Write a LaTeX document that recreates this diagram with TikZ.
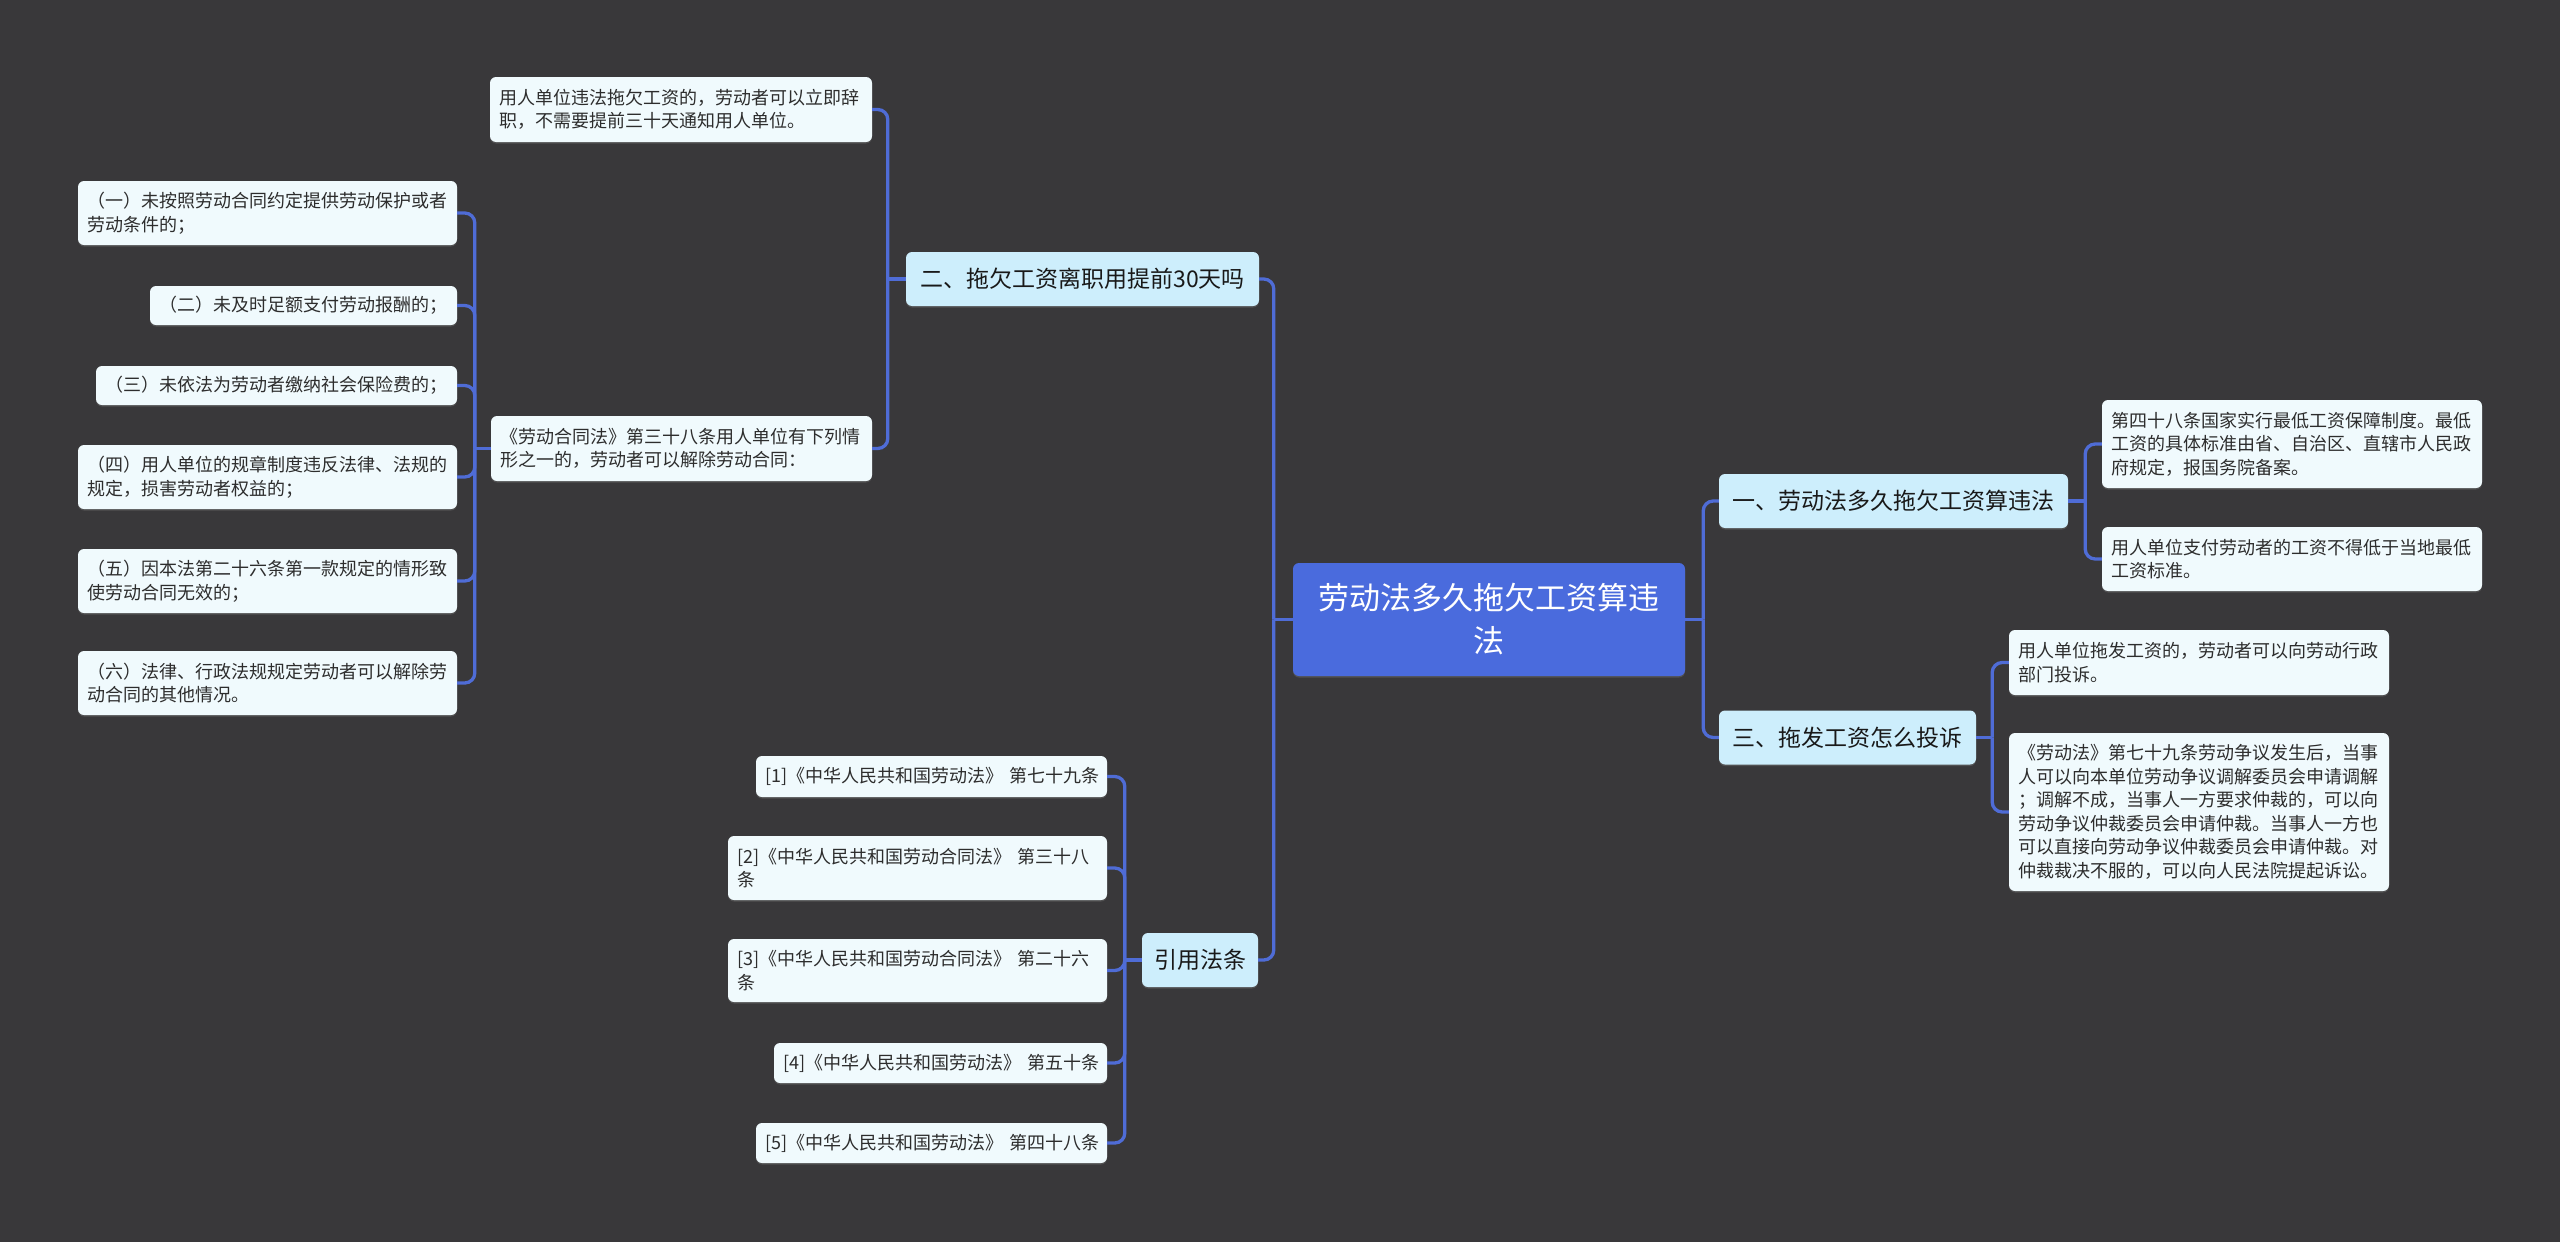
\documentclass[tikz,border=0pt]{standalone}
\usepackage{fontspec}
\setmainfont{Noto Sans CJK SC}
\usetikzlibrary{shadows}
\definecolor{bgc}{RGB}{57,56,58}
\definecolor{rootfill}{RGB}{74,107,221}
\definecolor{lonefill}{RGB}{205,238,252}
\definecolor{leaffill}{RGB}{240,250,253}
\definecolor{linec}{RGB}{79,108,214}
\definecolor{leaftext}{RGB}{45,45,45}
\definecolor{lonetext}{RGB}{25,25,25}
\newcommand\myleaffont{\fontsize{18pt}{23.5pt}\selectfont}
\newcommand\mylonefont{\fontsize{23pt}{30pt}\selectfont}
\newcommand\myrootfont{\fontsize{31pt}{43pt}\selectfont}
\tikzset{
  boxbase/.style={rounded corners=6pt, drop shadow={shadow xshift=0pt, shadow yshift=-1.5pt, opacity=0.35}},
  leaf/.style={boxbase, fill=leaffill, text=leaftext, inner xsep=9pt, inner ysep=0pt, align=left, font=\myleaffont},
  lone/.style={boxbase, fill=lonefill, text=lonetext, inner sep=0pt, align=center, font=\mylonefont, minimum height=54pt},
  rootbox/.style={boxbase, fill=rootfill, text=white, inner sep=0pt, align=center, font=\myrootfont, minimum width=392pt, minimum height=113pt},
  conn/.style={draw=linec, line width=3.3pt, rounded corners=10pt}
}
\begin{document}
\begin{tikzpicture}[x=1pt,y=-1pt]
\useasboundingbox (0,0) rectangle (2560,1242);
\fill[bgc] (0,0) rectangle (2560,1242);

% root
\node[rootbox] (root) at (1489,619.5) {劳动法多久拖欠工资算违\\法};

% level one
\node[lone, minimum width=353pt] (B) at (1082.5,279) {二、拖欠工资离职用提前30天吗};
\node[lone, minimum width=116pt] (R) at (1200,960) {引用法条};
\node[lone, minimum width=349pt] (O) at (1893.5,501) {一、劳动法多久拖欠工资算违法};
\node[lone, minimum width=257pt] (T) at (1847.5,737.5) {三、拖发工资怎么投诉};

% B children
\node[leaf, text width=364pt, minimum height=65pt] (A) at (681,109.5) {用人单位违法拖欠工资的，劳动者可以立即辞\\职，不需要提前三十天通知用人单位。};
\node[leaf, text width=363pt, minimum height=65pt] (C) at (681.5,448.5) {《劳动合同法》第三十八条用人单位有下列情\\形之一的，劳动者可以解除劳动合同：};

% C children
\node[leaf, text width=361pt, minimum height=64pt] (k1) at (267.5,213) {（一）未按照劳动合同约定提供劳动保护或者\\劳动条件的；};
\node[leaf, text width=289pt, minimum height=39pt] (k2) at (303.5,305.5) {（二）未及时足额支付劳动报酬的；};
\node[leaf, text width=343pt, minimum height=39pt] (k3) at (276.5,385.5) {（三）未依法为劳动者缴纳社会保险费的；};
\node[leaf, text width=361pt, minimum height=64pt] (k4) at (267.5,477) {（四）用人单位的规章制度违反法律、法规的\\规定，损害劳动者权益的；};
\node[leaf, text width=361pt, minimum height=64pt] (k5) at (267.5,581) {（五）因本法第二十六条第一款规定的情形致\\使劳动合同无效的；};
\node[leaf, text width=361pt, minimum height=64pt] (k6) at (267.5,683) {（六）法律、行政法规规定劳动者可以解除劳\\动合同的其他情况。};

% references
\node[leaf, text width=333pt, minimum height=41pt] (r1) at (931.5,776.5) {\mbox{[1]《中华人民共和国劳动法》~第七十九条}};
\node[leaf, text width=361pt, minimum height=64pt] (r2) at (917.5,868) {[2]《中华人民共和国劳动合同法》~第三十八\\条};
\node[leaf, text width=361pt, minimum height=63pt] (r3) at (917.5,970.5) {[3]《中华人民共和国劳动合同法》~第二十六\\条};
\node[leaf, text width=315pt, minimum height=40pt] (r4) at (940.5,1063) {\mbox{[4]《中华人民共和国劳动法》~第五十条}};
\node[leaf, text width=333pt, minimum height=40pt] (r5) at (931.5,1143) {\mbox{[5]《中华人民共和国劳动法》~第四十八条}};

% right side children
\node[leaf, text width=362pt, minimum height=88pt] (d1) at (2292,444) {第四十八条国家实行最低工资保障制度。最低\\工资的具体标准由省、自治区、直辖市人民政\\府规定，报国务院备案。};
\node[leaf, text width=362pt, minimum height=64pt] (d2) at (2292,559) {用人单位支付劳动者的工资不得低于当地最低\\工资标准。};
\node[leaf, text width=362pt, minimum height=65pt] (e1) at (2199,662.5) {用人单位拖发工资的，劳动者可以向劳动行政\\部门投诉。};
\node[leaf, text width=362pt, minimum height=158pt] (e2) at (2199,812) {《劳动法》第七十九条劳动争议发生后，当事\\人可以向本单位劳动争议调解委员会申请调解\\；调解不成，当事人一方要求仲裁的，可以向\\劳动争议仲裁委员会申请仲裁。当事人一方也\\可以直接向劳动争议仲裁委员会申请仲裁。对\\仲裁裁决不服的，可以向人民法院提起诉讼。};

% connectors
\draw[conn] (root.west) -- ++(-19,0) coordinate (jL);
\draw[conn] (jL) |- (B.east);
\draw[conn] (jL) |- (R.east);
\draw[conn] (root.east) -- ++(18,0) coordinate (jRt);
\draw[conn] (jRt) |- (O.west);
\draw[conn] (jRt) |- (T.west);

\draw[conn] (B.west) -- ++(-18,0) coordinate (jB);
\draw[conn] (jB) |- (A.east);
\draw[conn] (jB) |- (C.east);

\draw[conn] (C.west) -- ++(-16,0) coordinate (jC);
\foreach \k in {k1,k2,k3,k4,k5,k6} { \draw[conn] (jC) |- (\k.east); }

\draw[conn] (R.west) -- ++(-17,0) coordinate (jR);
\foreach \k in {r1,r2,r3,r4,r5} { \draw[conn] (jR) |- (\k.east); }

\draw[conn] (O.east) -- ++(17,0) coordinate (jO);
\draw[conn] (jO) |- (d1.west);
\draw[conn] (jO) |- (d2.west);

\draw[conn] (T.east) -- ++(16,0) coordinate (jT);
\draw[conn] (jT) |- (e1.west);
\draw[conn] (jT) |- (e2.west);
\end{tikzpicture}
\end{document}
